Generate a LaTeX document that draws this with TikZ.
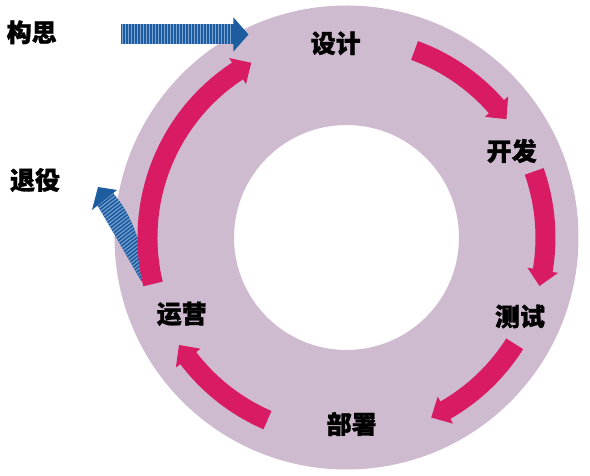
\documentclass[tikz,border=0pt]{standalone}
\usepackage{fontspec}
\newfontfamily\cjk{Noto Sans CJK SC}[BoldFeatures={FakeBold=1.2}]
\definecolor{ringc}{RGB}{207,187,208}
\definecolor{pinkc}{RGB}{216,27,99}
\definecolor{bluec}{RGB}{30,92,160}
\definecolor{stripec}{RGB}{125,165,212}
\newcommand\pinkarc[3]{%
  \fill[pinkc] (#1:189pt) arc[start angle=#1,end angle=#2,radius=189pt]
    -- (#2:183.5pt) -- (#3:199pt) -- (#2:214.5pt) -- (#2:209pt)
    arc[start angle=#2,end angle=#1,radius=209pt] -- cycle;}
\tikzset{
  lbl/.style={font=\cjk\bfseries\fontsize{25}{30}\selectfont, inner sep=0pt, text=black},
  stripe/.style={draw=stripec, line width=1pt}
}
\begin{document}
\begin{tikzpicture}[x=1pt,y=1pt]
\useasboundingbox (-346.5,-238.5) rectangle (243.5,237.5);
\fill[white] (-346.5,-238.5) rectangle (243.5,237.5);
% ring
\fill[ringc, even odd rule] (0,0) circle (232pt) (0,0) circle (112.5pt);

% retire arrow (blue, striped)
\begin{scope}
  \clip (-249,32) .. controls (-234.5,7.5) and (-218.5,-20.5) .. (-205.5,-43.5)
        -- (-199.5,-40.5) .. controls (-205.5,-2.5) and (-216.5,25.5) .. (-233.6,44.5) -- cycle;
  \fill[bluec] (-260,-50) rectangle (-190,50);
  \begin{scope}[shift={(-205,-48)}, rotate=38]
    \foreach \t in {0,3,...,110} \draw[stripe] (-60,\t) -- (60,\t);
  \end{scope}
\end{scope}
\fill[bluec] (-254.5,27.5) -- (-248.5,50.5) -- (-229.5,47.5) -- cycle;

% concept arrow (blue, striped)
\fill[bluec] (-225.5,193.5) rectangle (-112.5,213.5);
\foreach \x in {-224,-221,...,-114} \draw[stripe] (\x,193.5) -- (\x,213.5);
\fill[bluec] (-113,186) -- (-98,203) -- (-113,220) -- cycle;

% pink cycle arrows
\pinkarc{193.5}{123.2}{118.6}
\pinkarc{70}{41.1}{36.5}
\pinkarc{19.4}{-9.5}{-14.1}
\pinkarc{-32.3}{-60.2}{-64.8}
\pinkarc{-113.4}{-142.7}{-147.3}

% labels
\node[lbl] (design) at (-10.8,194.2) {设计};
\node[lbl] (develop) at (165.2,86.5) {开发};
\node[lbl] (test) at (173.5,-79) {测试};
\node[lbl] (deploy) at (5.2,-186.5) {部署};
\node[lbl] (operate) at (-164.8,-76.3) {运营};
\node[lbl] (concept) at (-314.8,205.2) {构思};
\node[lbl] (retire) at (-311.5,57.5) {退役};
\end{tikzpicture}
\end{document}
